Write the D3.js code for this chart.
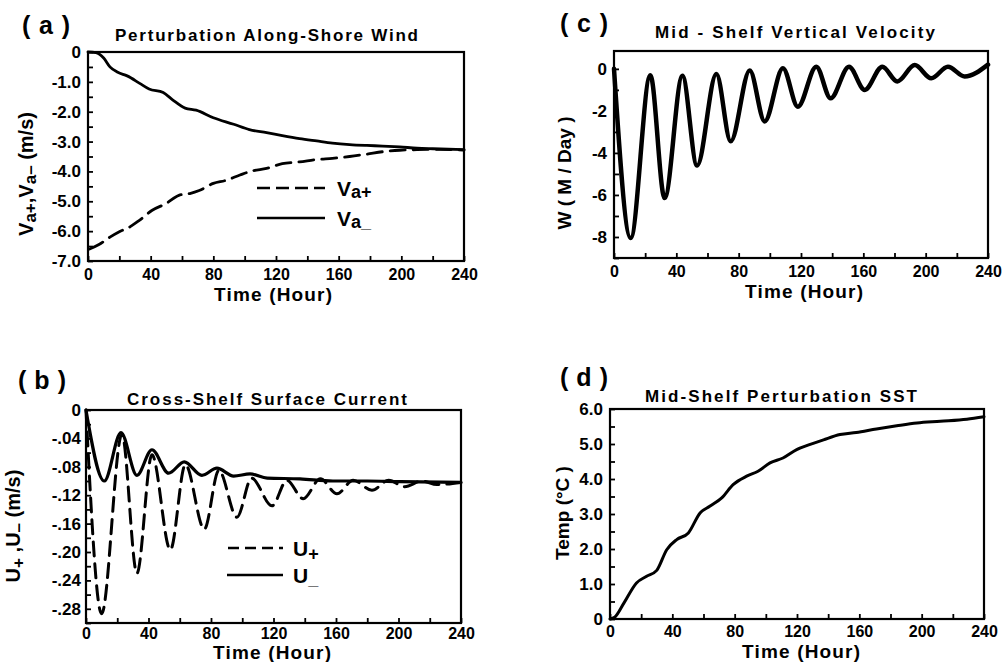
<!DOCTYPE html>
<html>
<head>
<meta charset="utf-8">
<script src="https://cdn.jsdelivr.net/npm/d3@7/dist/d3.min.js"></script>
<style>
  html, body { margin: 0; padding: 0; background: #fff; }
  svg { display: block; }
  text { font-family: "Liberation Sans", Arial, sans-serif; font-weight: bold; fill: #000; }
</style>
</head>
<body>
<svg id="chart" width="1008" height="662"></svg>
<script>
// ---- Panel (a): perturbation along-shore wind (m/s) ----
const aTimeMinus = [0, 5, 10, 14, 19, 25, 33, 39, 48, 54, 62, 69, 80, 93, 103, 114, 124, 135, 146, 156, 167, 178, 188, 199, 210, 220, 240];
const aVaMinus   = [0, -0.02, -0.2, -0.5, -0.68, -0.8, -1.05, -1.24, -1.36, -1.6, -1.88, -1.95, -2.2, -2.42, -2.6, -2.7, -2.8, -2.9, -2.98, -3.05, -3.1, -3.13, -3.15, -3.18, -3.22, -3.24, -3.27];
const aTimePlus  = [1, 7, 14, 20, 27, 33, 41, 50, 58, 65, 71, 80, 88, 97, 105, 114, 124, 135, 146, 156, 167, 178, 188, 199, 210, 225, 240];
const aVaPlus    = [-6.6, -6.45, -6.2, -6.02, -5.85, -5.63, -5.3, -5.07, -4.8, -4.74, -4.64, -4.4, -4.3, -4.12, -3.98, -3.9, -3.74, -3.68, -3.6, -3.56, -3.5, -3.42, -3.34, -3.29, -3.27, -3.26, -3.29];

// ---- Panel (b): cross-shelf surface current (m/s) ----
const bTimePlus  = [0, 10, 23, 32.6, 42.2, 54, 63.6, 75.7, 85, 96.6, 106, 119, 128.6, 139, 150, 160.6, 171, 183, 193.7, 204, 215, 224.6, 240];
const bUPlus     = [0, -0.287, -0.034, -0.23, -0.063, -0.197, -0.077, -0.168, -0.085, -0.151, -0.096, -0.135, -0.099, -0.125, -0.097, -0.118, -0.099, -0.113, -0.099, -0.108, -0.1, -0.105, -0.102];
const bTimeMinus = [0, 11.7, 22.4, 32.6, 42.2, 52.9, 62.9, 74.2, 83.8, 94.5, 105, 116, 137, 158, 180, 201, 240];
const bUMinus    = [0, -0.1, -0.032, -0.092, -0.056, -0.089, -0.073, -0.092, -0.082, -0.093, -0.09, -0.096, -0.097, -0.1, -0.1, -0.101, -0.102];

// ---- Panel (c): mid-shelf vertical velocity (m/day) ----
const cTime = [0, 10.7, 23.3, 32.5, 43.9, 53.3, 65.7, 74.9, 87.1, 96.7, 108.4, 118, 129.8, 139, 150.8, 160.9, 172.2, 181.8, 193, 203.6, 214.3, 225, 240];
const cW    = [0, -8.05, -0.3, -6.15, -0.33, -4.6, -0.25, -3.45, -0.08, -2.5, 0.03, -1.8, 0.1, -1.4, 0.1, -1.0, 0.1, -0.6, 0.18, -0.45, 0.1, -0.36, 0.2];

// ---- Panel (d): mid-shelf perturbation SST (deg C) ----
const dTime = [0, 3, 9, 17, 23.5, 30, 36.4, 42.8, 50.3, 57.8, 64, 71.7, 79, 87.7, 95, 102.7, 111, 119.8, 128, 137, 147.6, 158, 171, 184, 197, 212, 229, 240];
const dTemp = [0, 0.05, 0.46, 1.03, 1.22, 1.39, 1.98, 2.27, 2.46, 3.03, 3.22, 3.46, 3.84, 4.08, 4.22, 4.46, 4.6, 4.84, 4.98, 5.12, 5.27, 5.33, 5.43, 5.52, 5.6, 5.65, 5.71, 5.78];

// ---- Tick values and labels ----
const timeTicks      = d3.range(0, 241, 20);
const timeLabels     = [0, 40, 80, 120, 160, 200, 240];
const aTicks         = d3.range(-7, 0.01, 0.5);
const aLabels        = ["-7.0", "-6.0", "-5.0", "-4.0", "-3.0", "-2.0", "-1.0", "0"];
const bTicks         = d3.range(-0.30, 0.001, 0.02);
const bLabels        = ["-.28", "-.24", "-.20", "-.16", "-.12", "-.08", "-.04", "0"];
const cTicks         = d3.range(-9, 0.5, 1);
const cLabels        = ["-8", "-6", "-4", "-2", "0"];
const dTicks         = d3.range(0, 6.01, 0.5);
const dLabels        = ["0", "1.0", "2.0", "3.0", "4.0", "5.0", "6.0"];

const svg = d3.select("#chart");

function zip(xs, ys) { return xs.map((x, i) => ({ t: x, v: ys[i] })); }

// Draws one framed panel: inward ticks, tick labels, axis titles, curves.
function panel(cfg) {
  const x = d3.scaleLinear().domain([0, 240]).range([cfg.left, cfg.right]);
  const y = d3.scaleLinear().domain(cfg.yDomain).range([cfg.bottom, cfg.top]);
  const g = svg.append("g");

  // frame
  g.append("rect")
    .attr("x", cfg.left).attr("y", cfg.top)
    .attr("width", cfg.right - cfg.left).attr("height", cfg.bottom - cfg.top)
    .attr("fill", "none").attr("stroke", "#000").attr("stroke-width", 2.2);

  // bottom axis: ticks every 20 h pointing inward, labels every 40 h
  const xAxis = d3.axisBottom(x)
    .tickValues(timeTicks)
    .tickSizeInner(-5).tickSizeOuter(0).tickPadding(cfg.xPad)
    .tickFormat(d => timeLabels.includes(d) ? String(d) : "");
  const gx = g.append("g").attr("transform", `translate(0,${cfg.bottom})`).call(xAxis);
  gx.select(".domain").remove();
  gx.selectAll("line").attr("stroke", "#000").attr("stroke-width", 1.8);
  gx.selectAll("text").style("font-size", "16px").style("font-family", "'Liberation Sans', Arial, sans-serif").style("font-weight", "bold");

  // left axis: minor ticks inward, labels at selected values
  const labelMap = new Map(cfg.yLabelValues.map((v, i) => [v.toFixed(3), cfg.yLabels[i]]));
  const yAxis = d3.axisLeft(y)
    .tickValues(cfg.yTicks)
    .tickSizeInner(-5).tickSizeOuter(0).tickPadding(cfg.yPad)
    .tickFormat(d => labelMap.get((+d).toFixed(3)) || "");
  const gy = g.append("g").attr("transform", `translate(${cfg.left},0)`).call(yAxis);
  gy.select(".domain").remove();
  gy.selectAll("line").attr("stroke", "#000").attr("stroke-width", 1.8);
  gy.selectAll("text").style("font-size", "17px").style("font-family", "'Liberation Sans', Arial, sans-serif").style("font-weight", "bold");

  // curves
  const line = d3.line().x(d => x(d.t)).y(d => y(d.v)).curve(d3.curveMonotoneX);
  cfg.series.forEach(s => {
    g.append("path")
      .datum(zip(s.t, s.v))
      .attr("d", line)
      .attr("fill", "none")
      .attr("stroke", "#000")
      .attr("stroke-width", s.width)
      .attr("stroke-linejoin", "round")
      .attr("stroke-linecap", "round")
      .attr("stroke-dasharray", s.dash || null);
  });

  // panel letter
  g.append("text").attr("x", cfg.letterX).attr("y", cfg.letterY)
    .style("font-size", "25px")
    .attr("textLength", 48).attr("lengthAdjust", "spacing")
    .text(cfg.letter);

  // title
  g.append("text").attr("x", cfg.titleX0).attr("y", cfg.titleY)
    .style("font-size", "17px")
    .attr("textLength", cfg.titleX1 - cfg.titleX0).attr("lengthAdjust", "spacing")
    .text(cfg.title);

  // x axis title
  g.append("text").attr("x", cfg.xTitleX).attr("y", cfg.xTitleY)
    .attr("text-anchor", "middle").style("font-size", "19px")
    .attr("textLength", 118).attr("lengthAdjust", "spacing")
    .text("Time (Hour)");

  // y axis title (rotated)
  const yt = g.append("text")
    .attr("transform", `translate(${cfg.yTitleX},${cfg.yTitleY}) rotate(-90)`)
    .attr("text-anchor", "middle").style("font-size", cfg.yTitleSize);
  cfg.yTitle(yt);

  return { x, y, g };
}

// (a)
const pa = panel({
  left: 88, right: 464, top: 52, bottom: 261,
  yDomain: [-7, 0], yTicks: aTicks,
  yLabelValues: [-7, -6, -5, -4, -3, -2, -1, 0], yLabels: aLabels,
  xPad: 8, yPad: 7,
  letter: "( a )", letterX: 22, letterY: 34,
  title: "Perturbation Along-Shore Wind", titleX0: 115, titleX1: 418, titleY: 41,
  xTitleX: 273, xTitleY: 301,
  yTitleX: 33, yTitleY: 174, yTitleSize: "20px",
  yTitle: t => {
    t.append("tspan").text("V");
    t.append("tspan").attr("dy", 3).style("font-size", "17px").text("a+");
    t.append("tspan").attr("dy", -3).text(",V");
    t.append("tspan").attr("dy", 3).style("font-size", "17px").text("a\u2013");
    t.append("tspan").attr("dy", -3).text(" (m/s)");
  },
  series: [
    { t: aTimeMinus, v: aVaMinus, width: 2.8 },
    { t: aTimePlus, v: aVaPlus, width: 2.8, dash: "15 8" }
  ]
});

// (a) legend
pa.g.append("line").attr("x1", 257).attr("x2", 325).attr("y1", 188).attr("y2", 188)
  .attr("stroke", "#000").attr("stroke-width", 2.6).attr("stroke-dasharray", "13 6");
pa.g.append("line").attr("x1", 257).attr("x2", 325).attr("y1", 218).attr("y2", 218)
  .attr("stroke", "#000").attr("stroke-width", 2.6);
{
  const t1 = pa.g.append("text").attr("x", 337).attr("y", 196).style("font-size", "21px");
  t1.append("tspan").text("V");
  t1.append("tspan").attr("dy", 2).style("font-size", "18px").text("a+");
  const t2 = pa.g.append("text").attr("x", 337).attr("y", 226).style("font-size", "21px");
  t2.append("tspan").text("V");
  t2.append("tspan").attr("dy", 2).style("font-size", "18px").text("a_");
}

// (b)
const pb = panel({
  left: 86, right: 461, top: 410, bottom: 623,
  yDomain: [-0.30, 0], yTicks: bTicks,
  yLabelValues: [-0.28, -0.24, -0.20, -0.16, -0.12, -0.08, -0.04, 0], yLabels: bLabels,
  xPad: 5, yPad: 5,
  letter: "( b )", letterX: 18, letterY: 389,
  title: "Cross-Shelf Surface Current", titleX0: 127, titleX1: 407, titleY: 405,
  xTitleX: 272, xTitleY: 659,
  yTitleX: 20, yTitleY: 526, yTitleSize: "20px",
  yTitle: t => {
    t.append("tspan").text("U");
    t.append("tspan").attr("dy", 4).style("font-size", "17px").text("+");
    t.append("tspan").attr("dy", -4).text(" ,U");
    t.append("tspan").attr("dy", 4).style("font-size", "17px").text("\u2013");
    t.append("tspan").attr("dy", -4).text("  (m/s)");
  },
  series: [
    { t: bTimeMinus, v: bUMinus, width: 3.2 },
    { t: bTimePlus, v: bUPlus, width: 3, dash: "14 8" }
  ]
});

// (b) legend
pb.g.append("line").attr("x1", 228).attr("x2", 283).attr("y1", 548).attr("y2", 548)
  .attr("stroke", "#000").attr("stroke-width", 2.6).attr("stroke-dasharray", "11 6");
pb.g.append("line").attr("x1", 227).attr("x2", 283).attr("y1", 575).attr("y2", 575)
  .attr("stroke", "#000").attr("stroke-width", 2.6);
{
  const t1 = pb.g.append("text").attr("x", 293).attr("y", 556).style("font-size", "21px");
  t1.append("tspan").text("U");
  t1.append("tspan").attr("dy", 4).style("font-size", "18px").text("+");
  const t2 = pb.g.append("text").attr("x", 293).attr("y", 583).style("font-size", "21px");
  t2.append("tspan").text("U");
  t2.append("tspan").attr("dy", 2).style("font-size", "18px").text("_");
}

// (c)
panel({
  left: 614, right: 988, top: 51, bottom: 258,
  yDomain: [-9, 0.85], yTicks: cTicks,
  yLabelValues: [-8, -6, -4, -2, 0], yLabels: cLabels,
  xPad: 8, yPad: 7,
  letter: "( c )", letterX: 560, letterY: 32,
  title: "Mid - Shelf  Vertical  Velocity", titleX0: 655, titleX1: 935, titleY: 38,
  xTitleX: 804, xTitleY: 298,
  yTitleX: 571, yTitleY: 173, yTitleSize: "19px",
  yTitle: t => t.text("W ( M / Day )"),
  series: [
    { t: cTime, v: cW, width: 4.5 }
  ]
});

// (d)
panel({
  left: 610, right: 984, top: 409, bottom: 619,
  yDomain: [0, 6], yTicks: dTicks,
  yLabelValues: [0, 1, 2, 3, 4, 5, 6], yLabels: dLabels,
  xPad: 7, yPad: 7,
  letter: "( d )", letterX: 560, letterY: 386,
  title: "Mid-Shelf Perturbation SST", titleX0: 645, titleX1: 917, titleY: 402,
  xTitleX: 801, xTitleY: 658,
  yTitleX: 569, yTitleY: 513, yTitleSize: "19px",
  yTitle: t => t.text("Temp (\u00B0C )"),
  series: [
    { t: dTime, v: dTemp, width: 3 }
  ]
});
</script>
</body>
</html>
